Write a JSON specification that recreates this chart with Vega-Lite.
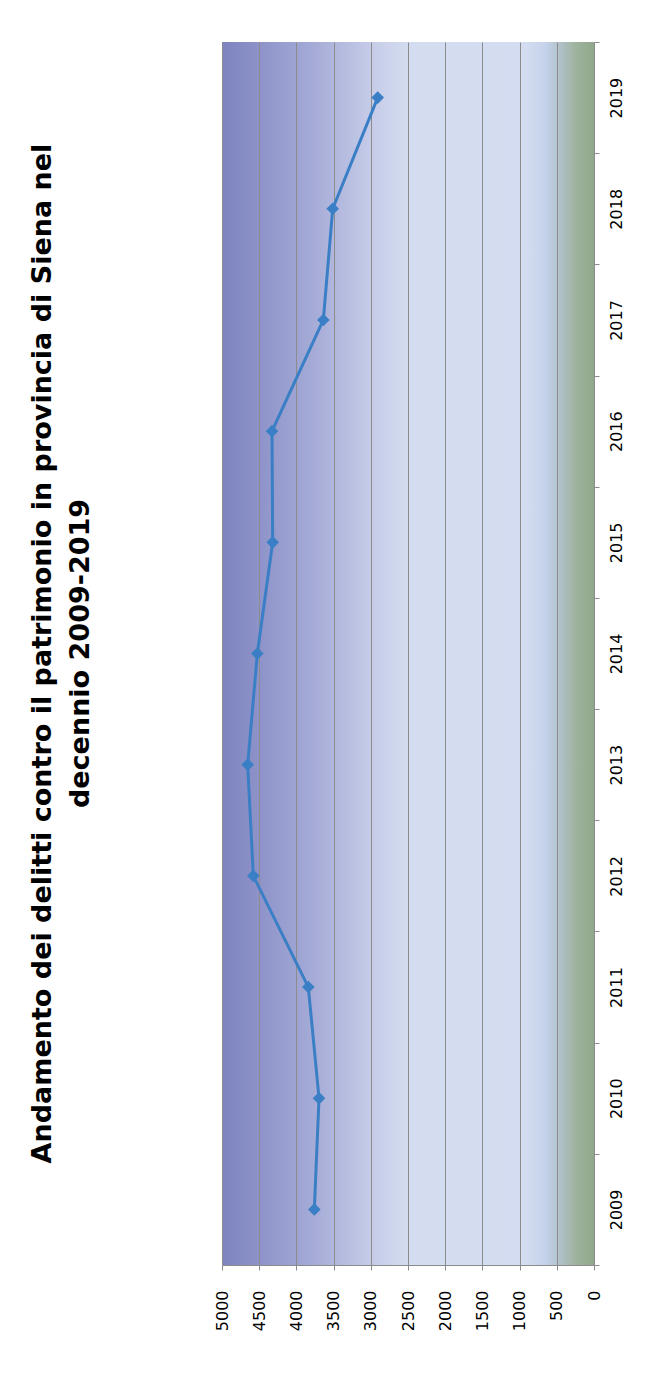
{
  "$schema": "https://vega.github.io/schema/vega-lite/v6.json",
  "autosize": {"type": "none"},
  "width": 372,
  "height": 1223,
  "padding": {"left": 222, "top": 42, "right": 66, "bottom": 116},
  "background": "white",
  "title": {
    "text": ["Andamento dei delitti contro il patrimonio in provincia di Siena nel", "decennio 2009-2019"],
    "orient": "left",
    "anchor": "middle",
    "font": "DejaVu Sans",
    "fontSize": 27,
    "fontWeight": "bold",
    "color": "black",
    "lineHeight": 38,
    "offset": 119
  },
  "config": {
    "view": {
      "stroke": null,
      "fill": {
        "gradient": "linear",
        "x1": 0, "y1": 0, "x2": 1, "y2": 0,
        "stops": [
          {"offset": 0, "color": "#7d83bf"},
          {"offset": 0.25, "color": "#a6acd7"},
          {"offset": 0.4, "color": "#c5cbe7"},
          {"offset": 0.5, "color": "#d4dcf0"},
          {"offset": 0.82, "color": "#d3dcf0"},
          {"offset": 0.87, "color": "#c4d2ea"},
          {"offset": 0.91, "color": "#b0c0c8"},
          {"offset": 0.95, "color": "#9fb39e"},
          {"offset": 1, "color": "#8fa88a"}
        ]
      }
    },
    "axis": {
      "labelFont": "DejaVu Sans",
      "labelFontSize": 16,
      "labelColor": "black",
      "domainColor": "#8c8c8c",
      "tickColor": "#8c8c8c",
      "gridColor": "#8c8c8c",
      "tickSize": 5,
      "title": null
    }
  },
  "data": {
    "values": [
      {"anno": 2009, "delitti": 3759},
      {"anno": 2010, "delitti": 3696},
      {"anno": 2011, "delitti": 3840},
      {"anno": 2012, "delitti": 4579},
      {"anno": 2013, "delitti": 4655},
      {"anno": 2014, "delitti": 4525},
      {"anno": 2015, "delitti": 4319},
      {"anno": 2016, "delitti": 4328},
      {"anno": 2017, "delitti": 3638},
      {"anno": 2018, "delitti": 3512},
      {"anno": 2019, "delitti": 2907}
    ]
  },
  "mark": {
    "type": "line",
    "color": "#3a7fc5",
    "strokeWidth": 3,
    "point": {"shape": "diamond", "filled": true, "size": 160, "color": "#3a7fc5"}
  },
  "encoding": {
    "x": {
      "field": "delitti",
      "type": "quantitative",
      "scale": {"domain": [0, 5000], "reverse": true, "nice": false},
      "axis": {
        "orient": "bottom",
        "values": [0, 500, 1000, 1500, 2000, 2500, 3000, 3500, 4000, 4500, 5000],
        "format": "d",
        "labelAngle": -90,
        "labelAlign": "right",
        "labelBaseline": "middle",
        "labelPadding": 20,
        "grid": true,
        "labelFlush": false,
        "labelOverlap": false
      }
    },
    "y": {
      "field": "anno",
      "type": "ordinal",
      "sort": "descending",
      "bandPosition": 0.5,
      "scale": {"type": "band", "paddingInner": 0, "paddingOuter": 0},
      "axis": {
        "orient": "right",
        "labelAngle": -90,
        "labelAlign": "center",
        "labelBaseline": "top",
        "labelPadding": 9,
        "tickBand": "extent",
        "grid": false
      }
    }
  }
}
